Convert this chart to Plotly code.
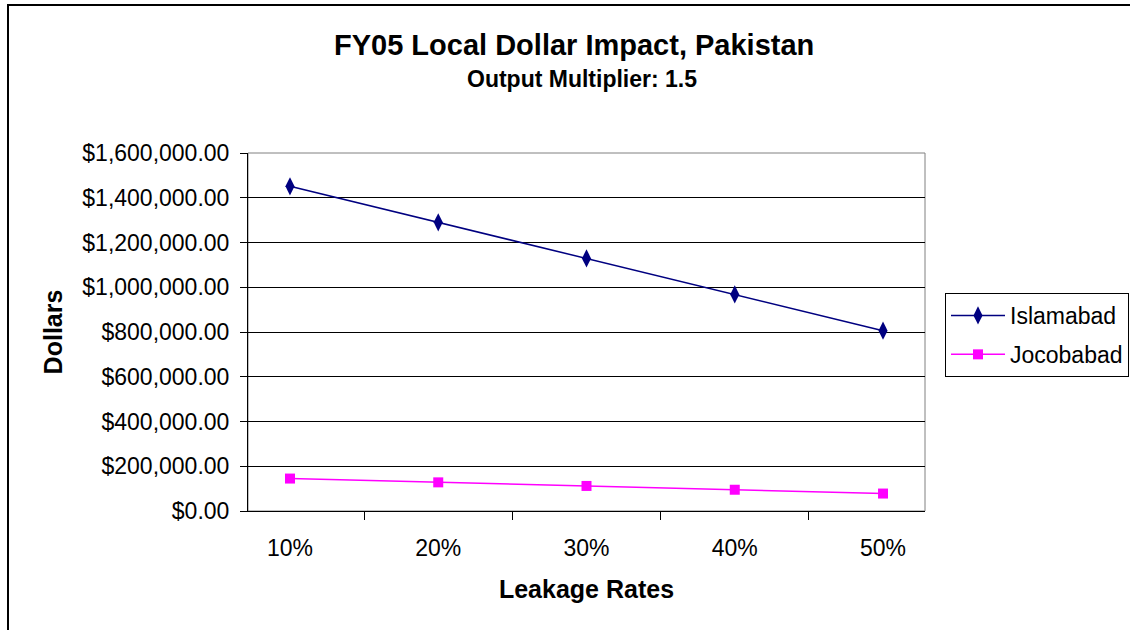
import plotly.graph_objects as go

categories = ["10%", "20%", "30%", "40%", "50%"]
islamabad = [1451000, 1290000, 1129000, 968000, 806000]
jocobabad = [145000, 128000, 112000, 95000, 78000]
y_ticks = [0, 200000, 400000, 600000, 800000, 1000000, 1200000, 1400000, 1600000]
y_tick_labels = ["${:,.2f}".format(v) for v in y_ticks]

FONT = "Liberation Sans, Arial, sans-serif"

W, H = 1130, 630
L, R, T, B = 248, 205, 153, 119
pw = W - L - R
ph = H - T - B

def px(x):
    return (x - L) / pw

def py(y):
    return (H - B - y) / ph

fig = go.Figure()
fig.add_trace(go.Scatter(
    x=categories, y=islamabad, name="Islamabad", mode="lines+markers",
    legendgroup="a",
    line=dict(color="#000080", width=1.5),
    marker=dict(symbol="diamond-tall", size=13, color="#000080"),
))
fig.add_trace(go.Scatter(
    x=categories, y=jocobabad, name="Jocobabad", mode="lines+markers",
    legendgroup="b",
    line=dict(color="#FF00FF", width=1.5),
    marker=dict(symbol="square", size=10, color="#FF00FF"),
))

fig.update_layout(
    width=W, height=H,
    margin=dict(l=L, r=R, t=T, b=B, autoexpand=False),
    paper_bgcolor="white", plot_bgcolor="white",
    font=dict(family=FONT, color="black", size=23),
    showlegend=True,
    legend=dict(
        x=px(945), y=py(293), xanchor="left", yanchor="top",
        bordercolor="#000000", borderwidth=1, bgcolor="white",
        font=dict(size=23, family=FONT),
        tracegroupgap=6, itemwidth=54,
    ),
    shapes=[
        # outer chart border (top and left visible)
        dict(type="line", xref="paper", yref="paper",
             x0=px(7), x1=px(1132), y0=py(5), y1=py(5),
             line=dict(color="black", width=2), layer="above"),
        dict(type="line", xref="paper", yref="paper",
             x0=px(8), x1=px(8), y0=py(4), y1=py(640),
             line=dict(color="black", width=2), layer="above"),
        dict(type="rect", xref="paper", yref="paper", x0=0, x1=1, y0=0, y1=1,
             line=dict(color="#808080", width=1), layer="below"),
    ],
    annotations=[
        dict(text="<b>FY05 Local Dollar Impact, Pakistan</b>", xref="paper", yref="paper",
             x=px(574), y=py(45), xanchor="center", yanchor="middle", showarrow=False,
             font=dict(size=29, family=FONT)),
        dict(text="<b>Output Multiplier: 1.5</b>", xref="paper", yref="paper",
             x=px(582), y=py(79), xanchor="center", yanchor="middle", showarrow=False,
             font=dict(size=23, family=FONT)),
    ],
)

fig.update_xaxes(
    type="category", tickson="boundaries", ticks="outside", ticklen=8,
    tickcolor="black", showline=True, linecolor="black", linewidth=1,
    showgrid=False, mirror=False,
    tickfont=dict(size=23, family=FONT), ticklabelstandoff=16,
    title=dict(text="<b>Leakage Rates</b>", font=dict(size=25, family=FONT), standoff=20),
)
fig.update_yaxes(
    range=[0, 1600000], tickvals=y_ticks, ticktext=y_tick_labels,
    ticks="outside", ticklen=7, tickcolor="black",
    showline=True, linecolor="black", linewidth=1,
    showgrid=True, gridcolor="black", gridwidth=1,
    zeroline=False,
    tickfont=dict(size=23, family=FONT), ticklabelstandoff=6,
    title=dict(text="<b>Dollars</b>", font=dict(size=25, family=FONT), standoff=12),
)

fig.write_html("out.html", post_script="document.body.style.margin='0';",
               config={"displayModeBar": False})
